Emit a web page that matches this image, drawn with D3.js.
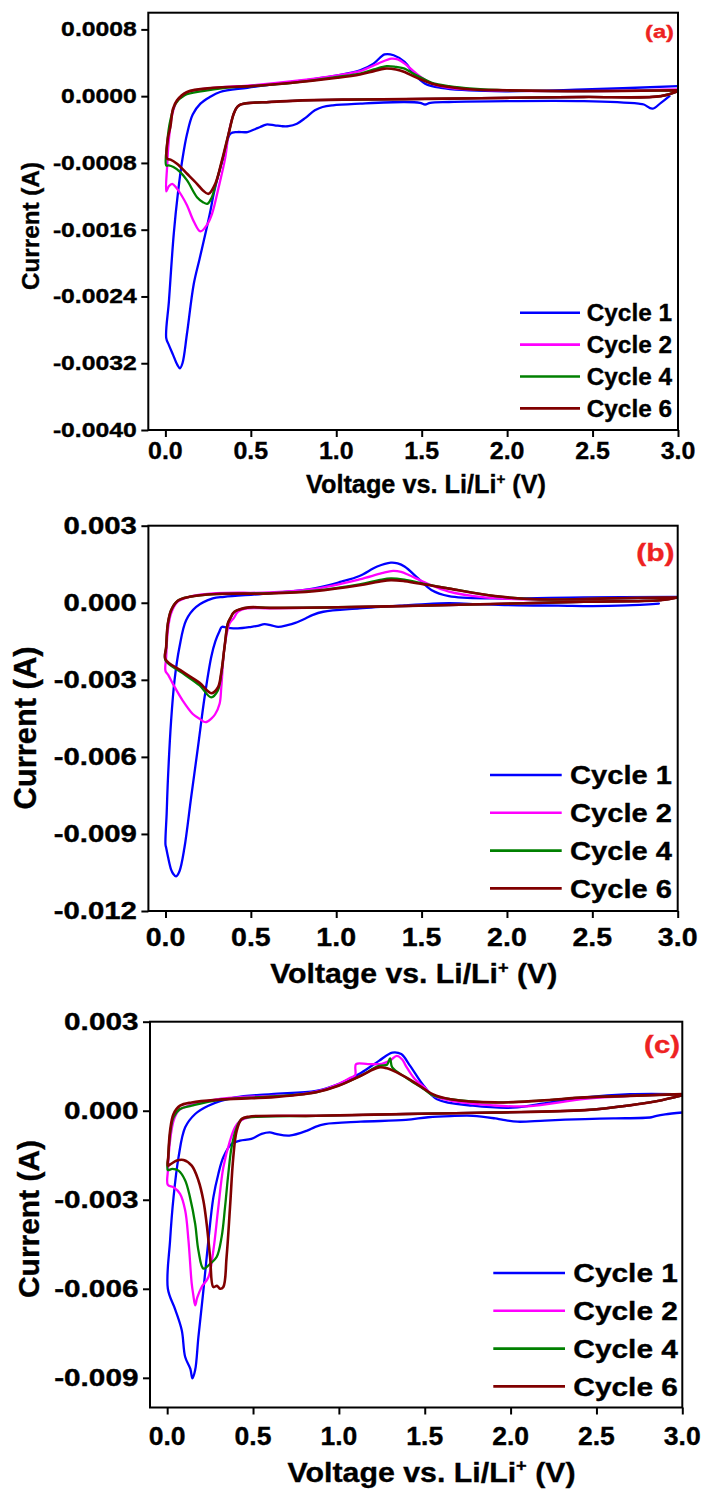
<!DOCTYPE html>
<html>
<head>
<meta charset="utf-8">
<script src="https://cdn.jsdelivr.net/npm/d3@7"></script>
<style>
  html, body { margin: 0; padding: 0; background: #fff; }
  svg { display: block; }
  text { font-family: "Liberation Sans", Arial, sans-serif; font-weight: bold; stroke-width: 0.35px; }
</style>
</head>
<body>
<svg id="fig" width="705" height="1489"></svg>
<script>
// ---------- data: cyclic voltammograms, [voltage (V), current (A)] ----------
const cycleNames = ["Cycle 1", "Cycle 2", "Cycle 4", "Cycle 6"];
const cycleColors = ["#0000ff", "#ff00ff", "#008000", "#800000"];
const panelTags = ["(a)", "(b)", "(c)"];

const voltTicks = [0, 0.5, 1.0, 1.5, 2.0, 2.5, 3.0];
const voltTickLabels = ["0.0", "0.5", "1.0", "1.5", "2.0", "2.5", "3.0"];

const currTicksA = [0.0008, 0, -0.0008, -0.0016, -0.0024, -0.0032, -0.0040];
const currLabelsA = ["0.0008", "0.0000", "-0.0008", "-0.0016", "-0.0024", "-0.0032", "-0.0040"];
const currTicksB = [0.003, 0, -0.003, -0.006, -0.009, -0.012];
const currLabelsB = ["0.003", "0.000", "-0.003", "-0.006", "-0.009", "-0.012"];
const currTicksC = [0.003, 0, -0.003, -0.006, -0.009];
const currLabelsC = ["0.003", "0.000", "-0.003", "-0.006", "-0.009"];

// panel (a)
const cvA1 = [[2.95,0.0],[2.90,-0.00008],[2.85,-0.00015],[2.80,-0.00010],[2.77,-0.00009],[2.45,-0.00006],[2.0,-0.00006],[1.66,-0.00007],[1.55,-0.00008],[1.52,-0.00010],[1.49,-0.00008],[1.40,-0.00007],[1.14,-0.00009],[0.98,-0.00011],[0.92,-0.00013],[0.875,-0.00017],[0.82,-0.00026],[0.77,-0.00033],[0.72,-0.00036],[0.68,-0.00036],[0.64,-0.00035],[0.59,-0.00034],[0.555,-0.00037],[0.53,-0.00039],[0.48,-0.00043],[0.42,-0.00043],[0.38,-0.00045],[0.345,-0.00069],[0.312,-0.00093],[0.283,-0.00117],[0.26,-0.00141],[0.234,-0.00165],[0.2,-0.00195],[0.166,-0.00225],[0.126,-0.00285],[0.100,-0.00320],[0.085,-0.00326],[0.070,-0.00322],[0.045,-0.00310],[0.02,-0.00298],[0.005,-0.00290],
  [0.021,-0.00245],[0.049,-0.00165],[0.074,-0.00115],[0.100,-0.00075],[0.127,-0.00045],[0.16,-0.00022],[0.205,-0.00009],[0.26,-0.00001],[0.32,0.00005],[0.48,0.00010],[0.744,0.00017],[1.007,0.00025],[1.139,0.00031],[1.218,0.00039],[1.283,0.00050],[1.336,0.00049],[1.40,0.00041],[1.454,0.00027],[1.52,0.00015],[1.612,0.00010],[1.927,0.00006],[2.45,0.00008],[3.0,0.00012]];
const cvA2 = [[3.0,0.00006],[2.9,0.0],[2.45,-0.00001],[2.0,-0.00002],[1.66,-0.00003],[1.14,-0.00004],[0.8,-0.00005],[0.61,-0.00007],[0.5,-0.00008],[0.44,-0.00010],[0.42,-0.00013],[0.40,-0.00021],[0.37,-0.00045],[0.351,-0.00073],[0.312,-0.00109],[0.273,-0.00141],[0.244,-0.00154],[0.205,-0.00162],[0.166,-0.00150],[0.127,-0.00131],[0.095,-0.00119],[0.065,-0.00110],[0.04,-0.00105],[0.02,-0.00108],[0.005,-0.00114],
  [0.01,-0.00085],[0.02,-0.00053],[0.04,-0.00022],[0.07,-0.00005],[0.12,0.00004],[0.2,0.00008],[0.35,0.00011],[0.5,0.00013],[0.744,0.00018],[1.007,0.00025],[1.139,0.00030],[1.244,0.00039],[1.323,0.00045],[1.36,0.00044],[1.40,0.00039],[1.481,0.00025],[1.56,0.00015],[1.66,0.00010],[1.927,0.00007],[2.45,0.00006],[3.0,0.00008]];
const cvA4 = [[3.0,0.00006],[2.9,0.0],[2.45,-0.00001],[2.0,-0.00002],[1.66,-0.00003],[1.14,-0.00004],[0.8,-0.00005],[0.61,-0.00007],[0.5,-0.00008],[0.44,-0.00010],[0.42,-0.00013],[0.40,-0.00021],[0.37,-0.00045],[0.335,-0.00075],[0.295,-0.00105],[0.27,-0.00122],[0.245,-0.00129],[0.22,-0.00127],[0.185,-0.00121],[0.127,-0.00101],[0.087,-0.00091],[0.047,-0.00085],[0.02,-0.00083],[0.005,-0.00083],
  [0.01,-0.00057],[0.029,-0.00029],[0.06,-0.00009],[0.113,0.00001],[0.218,0.00006],[0.35,0.00010],[0.5,0.00012],[0.744,0.00016],[1.007,0.00023],[1.139,0.00027],[1.22,0.00032],[1.296,0.00036],[1.35,0.00035],[1.40,0.00033],[1.45,0.00027],[1.507,0.00021],[1.56,0.00016],[1.66,0.00012],[1.8,0.00009],[2.0,0.00007],[2.45,0.00006],[3.0,0.00007]];
const cvA6 = [[3.0,0.00006],[2.9,0.0],[2.45,-0.00001],[2.0,-0.00002],[1.66,-0.00003],[1.14,-0.00004],[0.8,-0.00005],[0.61,-0.00007],[0.5,-0.00008],[0.44,-0.00010],[0.42,-0.00013],[0.40,-0.00021],[0.37,-0.00045],[0.331,-0.00077],[0.292,-0.00105],[0.253,-0.00117],[0.22,-0.00113],[0.185,-0.00105],[0.127,-0.00093],[0.068,-0.00081],[0.03,-0.00076],[0.01,-0.00075],
  [0.015,-0.00050],[0.029,-0.00037],[0.045,-0.00015],[0.068,-0.00005],[0.127,0.00005],[0.28,0.00010],[0.5,0.00012],[0.744,0.00016],[1.007,0.00022],[1.139,0.00026],[1.22,0.00030],[1.283,0.00033],[1.35,0.00032],[1.40,0.00029],[1.45,0.00024],[1.507,0.00019],[1.56,0.00015],[1.66,0.00011],[1.8,0.00008],[2.0,0.00007],[2.45,0.00006],[3.0,0.00007]];

// panel (b)
const cvB1 = [[2.89,-0.00003],[2.7,-0.00010],[2.5,-0.00013],[2.3,-0.00011],[2.06,-0.00010],[1.8,-0.00005],[1.66,-0.00002],[1.5,-0.00006],[1.4,-0.00010],[1.136,-0.00022],[0.924,-0.00035],[0.86,-0.00048],[0.82,-0.00061],[0.76,-0.00078],[0.714,-0.00087],[0.66,-0.00094],[0.62,-0.00088],[0.58,-0.00083],[0.54,-0.00090],[0.503,-0.00094],[0.424,-0.00100],[0.36,-0.00097],[0.33,-0.00094],[0.317,-0.00110],[0.292,-0.00150],[0.268,-0.00211],[0.229,-0.00368],[0.19,-0.00563],[0.15,-0.00759],[0.111,-0.00954],[0.082,-0.01045],[0.062,-0.01065],[0.045,-0.01055],[0.033,-0.01039],[0.015,-0.00990],[0.004,-0.00954],[0.0,-0.00941],
  [0.007,-0.0082],[0.014,-0.00693],[0.033,-0.00459],[0.053,-0.00302],[0.082,-0.00172],[0.121,-0.00068],[0.18,-0.00016],[0.277,0.00017],[0.345,0.00023],[0.61,0.00037],[0.872,0.00056],[1.03,0.00082],[1.136,0.00104],[1.24,0.00141],[1.32,0.00156],[1.36,0.00153],[1.40,0.00141],[1.48,0.00095],[1.557,0.00050],[1.66,0.00026],[1.93,0.00017],[2.45,0.00021],[3.0,0.00023]];
const cvB2 = [[3.0,0.00021],[2.9,0.00010],[2.45,0.00004],[1.66,-0.00009],[1.136,-0.00016],[0.61,-0.00022],[0.48,-0.00022],[0.424,-0.00035],[0.40,-0.00060],[0.375,-0.00081],[0.346,-0.00172],[0.327,-0.00329],[0.317,-0.00393],[0.29,-0.00435],[0.27,-0.00450],[0.235,-0.00465],[0.2,-0.00452],[0.16,-0.00433],[0.10,-0.00380],[0.043,-0.00315],[0.015,-0.00280],[0.0,-0.00265],
  [0.004,-0.00211],[0.014,-0.00107],[0.033,-0.00041],[0.072,0.00004],[0.14,0.00023],[0.297,0.00037],[0.61,0.00040],[0.872,0.00054],[1.136,0.00091],[1.267,0.00115],[1.333,0.00124],[1.38,0.00120],[1.425,0.00108],[1.53,0.00076],[1.66,0.00043],[1.87,0.00021],[2.19,0.00013],[2.6,0.00017],[3.0,0.00021]];
const cvB4 = [[3.0,0.00021],[2.9,0.00010],[2.45,0.00004],[1.66,-0.00009],[1.136,-0.00016],[0.61,-0.00020],[0.49,-0.00018],[0.404,-0.00035],[0.38,-0.00060],[0.365,-0.00081],[0.346,-0.00172],[0.327,-0.00276],[0.307,-0.00341],[0.268,-0.00368],[0.2,-0.00322],[0.1,-0.00274],[0.0,-0.00224],
  [0.004,-0.00172],[0.014,-0.00081],[0.033,-0.00029],[0.072,0.00008],[0.14,0.00023],[0.297,0.00034],[0.61,0.00037],[0.872,0.00047],[1.136,0.00072],[1.25,0.00088],[1.32,0.00095],[1.4,0.00090],[1.53,0.00072],[1.66,0.00056],[1.93,0.00026],[2.19,0.00013],[2.6,0.00017],[3.0,0.00021]];
const cvB6 = [[3.0,0.00021],[2.9,0.00010],[2.45,0.00004],[1.66,-0.00009],[1.136,-0.00016],[0.61,-0.00020],[0.49,-0.00018],[0.404,-0.00035],[0.38,-0.00060],[0.365,-0.00081],[0.346,-0.00172],[0.327,-0.00270],[0.307,-0.00330],[0.268,-0.00352],[0.2,-0.00312],[0.1,-0.00268],[0.0,-0.00220],
  [0.004,-0.00172],[0.014,-0.00081],[0.033,-0.00029],[0.072,0.00008],[0.14,0.00023],[0.297,0.00034],[0.61,0.00036],[0.872,0.00045],[1.136,0.00068],[1.25,0.00082],[1.32,0.00088],[1.4,0.00084],[1.53,0.00070],[1.66,0.00055],[1.93,0.00026],[2.19,0.00013],[2.6,0.00017],[3.0,0.00021]];

// panel (c)
const cvC1 = [[3.0,-0.00006],[2.9,-0.00012],[2.85,-0.00017],[2.82,-0.00022],[2.6,-0.00026],[2.433,-0.00028],[2.2,-0.00033],[2.04,-0.00037],[1.95,-0.00030],[1.911,-0.00026],[1.781,-0.00017],[1.65,-0.00018],[1.52,-0.00022],[1.39,-0.00031],[1.128,-0.00037],[0.919,-0.00045],[0.86,-0.00055],[0.815,-0.00067],[0.711,-0.00084],[0.633,-0.00078],[0.598,-0.00073],[0.55,-0.00078],[0.49,-0.00095],[0.424,-0.00101],[0.375,-0.00112],[0.327,-0.00157],[0.298,-0.00213],[0.269,-0.00292],[0.24,-0.00437],[0.211,-0.00605],[0.182,-0.00762],[0.163,-0.00874],[0.147,-0.00902],[0.135,-0.00870],[0.105,-0.00830],[0.085,-0.00740],[0.047,-0.00670],[0.004,-0.00600],
  [0.017,-0.00437],[0.037,-0.00292],[0.066,-0.00157],[0.105,-0.00056],[0.163,-0.00011],[0.24,0.00017],[0.395,0.00045],[0.606,0.00056],[0.867,0.00067],[0.998,0.00090],[1.128,0.00127],[1.233,0.00168],[1.311,0.00196],[1.363,0.00191],[1.415,0.00151],[1.494,0.00084],[1.572,0.00039],[1.781,0.00017],[2.04,0.00011],[2.172,0.00023],[2.433,0.00045],[2.694,0.00056],[3.0,0.00056]];
const cvC2 = [[3.0,0.00052],[2.85,0.00032],[2.694,0.00018],[2.433,0.00002],[1.911,-0.00006],[1.39,-0.00011],[0.867,-0.00017],[0.476,-0.00022],[0.424,-0.00034],[0.395,-0.00056],[0.366,-0.00101],[0.327,-0.00191],[0.298,-0.00325],[0.269,-0.00471],[0.24,-0.00561],[0.201,-0.00594],[0.175,-0.00630],[0.163,-0.00656],[0.152,-0.00620],[0.143,-0.00583],[0.124,-0.00437],[0.105,-0.00336],[0.075,-0.00280],[0.037,-0.00258],[0.004,-0.00250],
  [0.004,-0.00202],[0.017,-0.00101],[0.037,-0.00034],[0.066,0.0],[0.124,0.00017],[0.298,0.00039],[0.606,0.00050],[0.72,0.00052],[0.867,0.00064],[0.998,0.00090],[1.07,0.00112],[1.095,0.00120],[1.10,0.00157],[1.17,0.00157],[1.25,0.00158],[1.30,0.00170],[1.337,0.00185],[1.37,0.00172],[1.39,0.00151],[1.442,0.00107],[1.494,0.00081],[1.546,0.00052],[1.65,0.00034],[1.9,0.00018],[2.1,0.00015],[2.433,0.00040],[2.7,0.00050],[3.0,0.00056]];
const cvC4 = [[3.0,0.00052],[2.85,0.00032],[2.694,0.00018],[2.433,0.00002],[1.911,-0.00006],[1.39,-0.00011],[0.867,-0.00017],[0.476,-0.00022],[0.434,-0.00028],[0.405,-0.00056],[0.375,-0.00123],[0.356,-0.00213],[0.337,-0.00325],[0.317,-0.00426],[0.288,-0.00493],[0.25,-0.00516],[0.211,-0.00532],[0.182,-0.00471],[0.163,-0.00381],[0.133,-0.00292],[0.105,-0.00235],[0.066,-0.00202],[0.03,-0.00196],[0.004,-0.00200],
  [0.006,-0.00157],[0.017,-0.00078],[0.037,-0.00022],[0.075,0.00006],[0.143,0.00017],[0.298,0.00036],[0.606,0.00048],[0.867,0.00062],[0.998,0.00085],[1.128,0.00118],[1.233,0.00151],[1.28,0.00155],[1.298,0.00176],[1.311,0.00146],[1.39,0.00112],[1.494,0.00073],[1.546,0.00052],[1.65,0.00039],[1.911,0.00028],[2.172,0.00034],[2.433,0.00045],[2.694,0.00050],[3.0,0.00056]];
const cvC6 = [[3.0,0.00052],[2.85,0.00032],[2.694,0.00018],[2.433,0.00002],[1.911,-0.00006],[1.39,-0.00011],[0.867,-0.00017],[0.476,-0.00020],[0.434,-0.00028],[0.405,-0.00067],[0.385,-0.00157],[0.366,-0.00325],[0.346,-0.00493],[0.327,-0.00594],[0.308,-0.00600],[0.29,-0.00590],[0.269,-0.00594],[0.25,-0.00493],[0.23,-0.00381],[0.211,-0.00303],[0.182,-0.00235],[0.143,-0.00185],[0.095,-0.00166],[0.056,-0.00168],[0.02,-0.00180],[0.004,-0.00185],
  [0.006,-0.00157],[0.017,-0.00067],[0.037,-0.00011],[0.075,0.00017],[0.143,0.00028],[0.298,0.00037],[0.49,0.00042],[0.606,0.00045],[0.867,0.00062],[0.998,0.00084],[1.128,0.00118],[1.233,0.00146],[1.28,0.00143],[1.337,0.00129],[1.442,0.00095],[1.546,0.00056],[1.65,0.00039],[1.911,0.00028],[2.172,0.00034],[2.433,0.00045],[2.694,0.00050],[3.0,0.00056]];

// ---------- layout of the three stacked panels ----------
const panels = [
  { tag: panelTags[0], series: [cvA1, cvA2, cvA4, cvA6],
    box: { l: 148.3, r: 678, t: 12.7, b: 430 }, yDomain: [-0.004, 0.001],
    yTicks: currTicksA, yLabels: currLabelsA, yTickFont: 19.5, yTickSx: 1.27,
    xTickFont: 24.5, xTickSx: 1.02, xTickDy: 29.3,
    xTitle: { cx: 426, y: 493, size: 25, len: 240 },
    yTitle: { x: 39, cy: 226, size: 24.3, len: 128 },
    tagPos: { x: 674, y: 38, size: 18, sx: 1.32 },
    legend: { x1: 520, x2: 580, tx: 586.7, y0: 312.7, dy: 31.9, size: 23, sx: 1.06 } },
  { tag: panelTags[1], series: [cvB1, cvB2, cvB4, cvB6],
    box: { l: 148.4, r: 677.7, t: 525.7, b: 911 }, yDomain: [-0.012, 0.003],
    yTicks: currTicksB, yLabels: currLabelsB, yTickFont: 23.5, yTickSx: 1.25,
    xTickFont: 25.5, xTickSx: 1.12, xTickDy: 35,
    xTitle: { cx: 413.7, y: 983.3, size: 28, len: 287 },
    yTitle: { x: 35.5, cy: 728, size: 30.5, len: 163 },
    tagPos: { x: 674.5, y: 561, size: 23.3, sx: 1.29 },
    legend: { x1: 490, x2: 561.7, tx: 570, y0: 775, dy: 37.8, size: 26, sx: 1.12 } },
  { tag: panelTags[2], series: [cvC1, cvC2, cvC4, cvC6],
    box: { l: 150, r: 682.3, t: 1021.7, b: 1407.5 }, yDomain: [-0.010, 0.003],
    yTicks: currTicksC, yLabels: currLabelsC, yTickFont: 24, yTickSx: 1.24,
    xTickFont: 25.5, xTickSx: 1.04, xTickDy: 37.5,
    xTitle: { cx: 431.6, y: 1481.5, size: 28.5, len: 288 },
    yTitle: { x: 39, cy: 1219, size: 30, len: 158 },
    tagPos: { x: 680, y: 1052.5, size: 23.3, sx: 1.26 },
    legend: { x1: 493.3, x2: 565, tx: 573.3, y0: 1273, dy: 37.8, size: 26, sx: 1.15 } }
];

const svg = d3.select("#fig");

panels.forEach((p, pi) => {
  const x = d3.scaleLinear().domain([-0.1, 3.0]).range([p.box.l, p.box.r]);
  const y = d3.scaleLinear().domain(p.yDomain).range([p.box.b, p.box.t]);
  const g = svg.append("g");

  const clipId = "clip" + pi;
  svg.append("clipPath").attr("id", clipId).append("rect")
    .attr("x", p.box.l).attr("y", p.box.t)
    .attr("width", p.box.r - p.box.l).attr("height", p.box.b - p.box.t);

  // tick marks
  const yAxis = g.append("g").attr("transform", `translate(${p.box.l},0)`)
    .call(d3.axisLeft(y).tickValues(p.yTicks).tickSize(7).tickFormat(""));
  const xAxis = g.append("g").attr("transform", `translate(0,${p.box.b})`)
    .call(d3.axisBottom(x).tickValues(voltTicks).tickSize(7).tickFormat(""));
  [yAxis, xAxis].forEach(a => {
    a.select(".domain").remove();
    a.selectAll(".tick line").attr("stroke", "#000").attr("stroke-width", 2);
  });

  // tick labels
  p.yTicks.forEach((v, i) => {
    g.append("text")
      .attr("transform", `translate(${p.box.l - 11.5},${y(v)}) scale(${p.yTickSx},1)`)
      .attr("text-anchor", "end").attr("dy", "0.36em")
      .attr("font-size", p.yTickFont).attr("stroke", "#000").text(p.yLabels[i]);
  });
  voltTicks.forEach((v, i) => {
    g.append("text")
      .attr("transform", `translate(${x(v)},${p.box.b + p.xTickDy}) scale(${p.xTickSx},1)`)
      .attr("text-anchor", "middle")
      .attr("font-size", p.xTickFont).attr("stroke", "#000").text(voltTickLabels[i]);
  });

  // curves
  const line = d3.line().x(d => x(d[0])).y(d => y(d[1]))
    .curve(d3.curveCatmullRom.alpha(0.5));
  const curves = g.append("g").attr("clip-path", `url(#${clipId})`);
  p.series.forEach((s, si) => {
    curves.append("path").datum(s).attr("d", line)
      .attr("fill", "none").attr("stroke", cycleColors[si])
      .attr("stroke-width", si === 3 ? 2.6 : 2.3)
      .attr("stroke-linejoin", "round").attr("stroke-linecap", "round");
  });

  // frame
  g.append("rect")
    .attr("x", p.box.l).attr("y", p.box.t)
    .attr("width", p.box.r - p.box.l).attr("height", p.box.b - p.box.t)
    .attr("fill", "none").attr("stroke", "#000").attr("stroke-width", 2);

  // axis titles
  const xt = g.append("text")
    .attr("x", p.xTitle.cx).attr("y", p.xTitle.y)
    .attr("text-anchor", "middle").attr("font-size", p.xTitle.size).attr("stroke", "#000")
    .attr("textLength", p.xTitle.len).attr("lengthAdjust", "spacingAndGlyphs");
  xt.append("tspan").text("Voltage vs. Li/Li");
  xt.append("tspan").attr("font-size", p.xTitle.size * 0.6).attr("dy", -p.xTitle.size * 0.38).text("+");
  xt.append("tspan").attr("dy", p.xTitle.size * 0.38).text(" (V)");

  g.append("text")
    .attr("transform", `translate(${p.yTitle.x},${p.yTitle.cy}) rotate(-90)`)
    .attr("text-anchor", "middle").attr("font-size", p.yTitle.size).attr("stroke", "#000")
    .attr("textLength", p.yTitle.len).attr("lengthAdjust", "spacingAndGlyphs")
    .text("Current (A)");

  // panel tag
  g.append("text")
    .attr("transform", `translate(${p.tagPos.x},${p.tagPos.y}) scale(${p.tagPos.sx},1)`)
    .attr("text-anchor", "end").attr("font-size", p.tagPos.size)
    .attr("fill", "#ee2222").attr("stroke", "#ee2222").text(p.tag);

  // legend
  cycleNames.forEach((name, i) => {
    const ly = p.legend.y0 + i * p.legend.dy;
    g.append("line")
      .attr("x1", p.legend.x1).attr("x2", p.legend.x2)
      .attr("y1", ly).attr("y2", ly)
      .attr("stroke", cycleColors[i]).attr("stroke-width", 2.6);
    g.append("text")
      .attr("transform", `translate(${p.legend.tx},${ly + p.legend.size * 0.36}) scale(${p.legend.sx},1)`)
      .attr("font-size", p.legend.size).attr("stroke", "#000").text(name);
  });
});
</script>
</body>
</html>
